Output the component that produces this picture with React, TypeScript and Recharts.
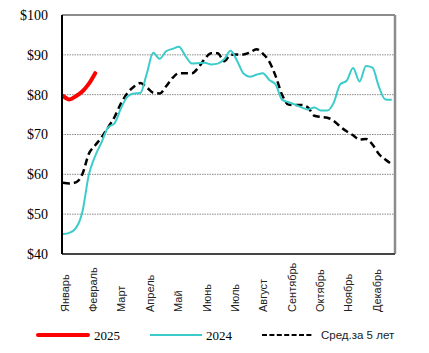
import React from "react";
import { LineChart, Line, XAxis, YAxis, CartesianGrid, ReferenceLine } from "recharts";

const MONTHS = [
  "Январь", "Февраль", "Март", "Апрель", "Май", "Июнь",
  "Июль", "Август", "Сентябрь", "Октябрь", "Ноябрь", "Декабрь",
];

const Y_TICKS = [40, 50, 60, 70, 80, 90, 100];

// weekly values, week 1..52
const Y2025 = [79.7, 78.8, 79.6, 80.8, 82.7, 85.4];

const Y2024 = [
  45.0, 45.3, 46.5, 50.5, 59.8, 64.6, 68.1, 71.8, 72.8, 76.6,
  79.5, 80.3, 80.4, 85.3, 90.5, 89.0, 90.9, 91.5, 92.0, 89.7,
  87.8, 87.9, 88.0, 87.6, 87.8, 88.9, 91.0, 88.5, 85.3, 84.5,
  85.0, 85.4, 83.7, 82.5, 78.7, 78.1, 77.5, 76.8, 76.3, 76.8,
  76.0, 76.0, 78.0, 82.6, 83.5, 86.7, 83.3, 87.2, 86.8, 82.0,
  78.8, 78.7,
];

const AVG5 = [
  57.9, 57.7, 58.0, 60.0, 65.1, 67.3, 69.3, 71.8, 74.4, 77.8,
  80.4, 82.0, 82.9, 81.8, 80.5, 80.3, 82.1, 84.2, 85.4, 85.4,
  85.4, 86.8, 89.0, 90.4, 90.4, 88.4, 90.0, 90.1, 90.1, 90.6,
  91.4, 90.3, 88.3, 84.6, 79.9, 77.5, 77.4, 77.4, 76.8, 74.7,
  74.4, 74.2, 73.4, 72.0, 70.8, 69.8, 68.7, 68.9, 67.5, 65.1,
  63.7, 62.5,
];

const rows = Y2024.map((v, i) => ({
  w: i + 1,
  y2024: v,
  avg: AVG5[i],
  y2025: i < Y2025.length ? Y2025[i] : undefined,
}));

const X_MIN = 0.85;
const X_MAX = 52.5;
const monthTicks = MONTHS.map((_, i) => 1.3 + i * 4.4);

const SERIF = "'Liberation Serif', 'Times New Roman', serif";
const SANS = "'Liberation Sans', Arial, sans-serif";

function MonthTick({ x, index }: any) {
  return (
    <text
      transform={`translate(${x},312) rotate(-90)`}
      textAnchor="start"
      dy="0.35em"
      style={{ fontFamily: SANS, fontSize: 11 }}
      fill="#222"
    >
      {MONTHS[index]}
    </text>
  );
}

function PriceTick({ y, payload }: any) {
  return (
    <text x={48} y={y} dy="0.35em" textAnchor="end" style={{ fontFamily: SERIF, fontSize: 14 }} fill="#000">
      {`$${payload.value}`}
    </text>
  );
}

function LegendBar() {
  return (
    <svg width={429} height={353} style={{ position: "absolute", left: 0, top: 0, pointerEvents: "none" }}>
      <line x1={38} y1={335} x2={88} y2={335} stroke="#FF0000" strokeWidth={4} strokeLinecap="round" />
      <text x={94} y={335} dy="0.35em" style={{ fontFamily: SERIF, fontSize: 13 }} fill="#000">2025</text>
      <line x1={150} y1={335} x2={202} y2={335} stroke="#3CCBCB" strokeWidth={2} />
      <text x={206} y={335} dy="0.35em" style={{ fontFamily: SERIF, fontSize: 13 }} fill="#000">2024</text>
      <line x1={262} y1={335} x2={313} y2={335} stroke="#000" strokeWidth={2} strokeDasharray="5 2.4" />
      <text x={321} y={335} dy="0.35em" style={{ fontFamily: SANS, fontSize: 11.5 }} fill="#222">Сред.за 5 лет</text>
    </svg>
  );
}

export default function App() {
  return (
    <div style={{ position: "absolute", left: 0, top: 0, width: 429, height: 353, background: "#fff" }}>
      <LineChart width={429} height={353} data={rows} margin={{ top: 15, right: 34, left: 12, bottom: 39 }}>
        <CartesianGrid vertical={false} stroke="#8a8a8a" strokeDasharray="1.5 1" />
        <XAxis
          dataKey="w"
          type="number"
          domain={[X_MIN, X_MAX]}
          ticks={monthTicks}
          allowDataOverflow
          interval={0}
          height={60}
          tick={<MonthTick />}
          tickLine={false}
          axisLine={{ stroke: "#454545", strokeWidth: 2 }}
        />
        <YAxis
          type="number"
          domain={[40, 100]}
          ticks={Y_TICKS}
          width={50}
          tickSize={0}
          tickLine={false}
          tick={<PriceTick />}
          axisLine={{ stroke: "#000", strokeWidth: 2 }}
        />
        <ReferenceLine y={100} stroke="#8c8c8c" strokeWidth={2} />
        <ReferenceLine x={X_MAX} stroke="#8c8c8c" strokeWidth={2.5} />
        <Line type="monotone" dataKey="avg" stroke="#000" strokeWidth={2.5} strokeDasharray="7 4" dot={false} isAnimationActive={false} />
        <Line type="monotone" dataKey="y2024" stroke="#3CCBCB" strokeWidth={2} dot={false} isAnimationActive={false} />
        <Line type="monotone" dataKey="y2025" stroke="#FF0000" strokeWidth={4} strokeLinecap="round" dot={false} isAnimationActive={false} />
      </LineChart>
      <LegendBar />
    </div>
  );
}
